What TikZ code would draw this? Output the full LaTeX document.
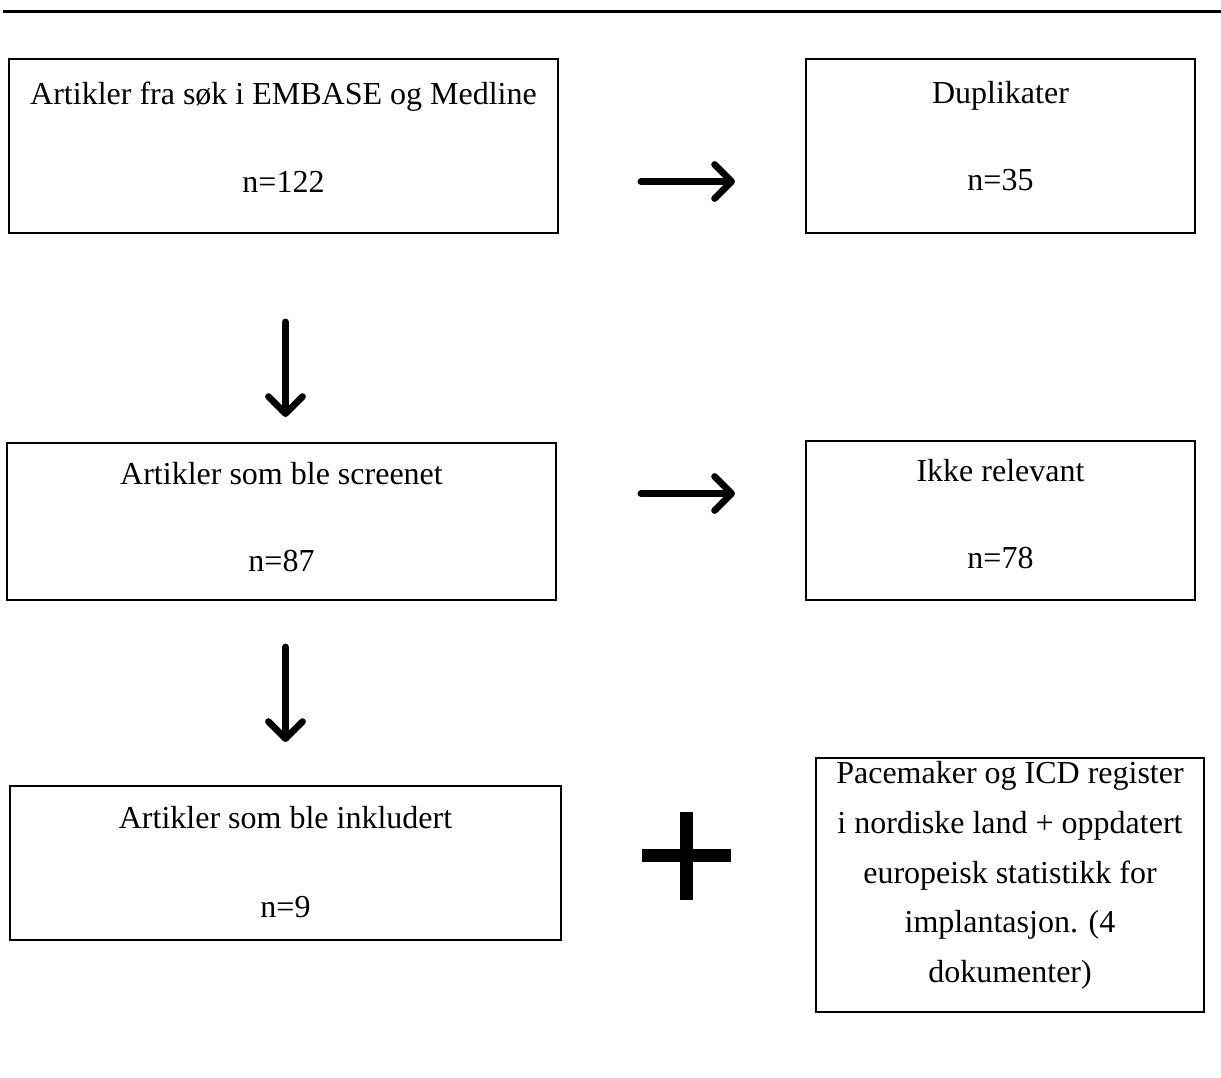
\documentclass[tikz,border=0pt]{standalone}
\usepackage{fontspec}
\setmainfont{Liberation Serif}
\usetikzlibrary{arrows.meta}
\begin{document}
\begin{tikzpicture}[x=1pt,y=-1pt,
  box/.style={draw=black,line width=1.2pt,rectangle,inner sep=0pt},
  txt/.style={anchor=base,inner sep=0pt,font=\fontsize{32}{38}\selectfont},
  flow/.style={line width=6.8pt,line cap=round,-{Straight Barb[round,length=17pt,width=34pt]}}]
\useasboundingbox (0,0) rectangle (1221,1077);
\draw[line width=3.8pt] (3,11.5) -- (1221,11.5);
% boxes
\node[box,minimum width=549pt,minimum height=174pt] (b1) at (283.5,146) {};
\node[box,minimum width=389pt,minimum height=174pt] (b2) at (1000.5,146) {};
\node[box,minimum width=549pt,minimum height=157pt] (b3) at (281.5,521.5) {};
\node[box,minimum width=389pt,minimum height=159pt] (b4) at (1000.5,520.5) {};
\node[box,minimum width=551pt,minimum height=154pt] (b5) at (285.5,863) {};
\node[box,minimum width=388pt,minimum height=254pt] (b6) at (1010,885) {};
% texts
\node[txt] (t1a) at (283.5,104) {Artikler fra søk i EMBASE og Medline};
\node[txt] (t1b) at (283.5,192) {n=122};
\node[txt] (t2a) at (1000.5,103) {Duplikater};
\node[txt] (t2b) at (1000.5,190) {n=35};
\node[txt] (t3a) at (281.5,484) {Artikler som ble screenet};
\node[txt] (t3b) at (281.5,571) {n=87};
\node[txt] (t4a) at (1000.5,481) {Ikke relevant};
\node[txt] (t4b) at (1000.5,568) {n=78};
\node[txt] (t5a) at (285.5,828) {Artikler som ble inkludert};
\node[txt] (t5b) at (285.5,917) {n=9};
\node[txt] (t6a) at (1010,783) {Pacemaker og ICD register};
\node[txt] (t6b) at (1010,833) {i nordiske land + oppdatert};
\node[txt] (t6c) at (1010,883) {europeisk statistikk for};
\node[txt] (t6d) at (1010,932) {implantasjon. (4};
\node[txt] (t6e) at (1010,982) {dokumenter)};
% arrows
\coordinate (r1s) at (641,181.5);
\coordinate (r1e) at (735,181.5);
\coordinate (r2s) at (641,493.5);
\coordinate (r2e) at (735,493.5);
\coordinate (d1s) at (285.5,322);
\coordinate (d1e) at (285.5,417);
\coordinate (d2s) at (285.5,647);
\coordinate (d2e) at (285.5,742);
\draw[flow] (r1s) -- (r1e);
\draw[flow] (r2s) -- (r2e);
\draw[flow] (d1s) -- (d1e);
\draw[flow] (d2s) -- (d2e);
% plus
\fill (680,812) rectangle (693,900);
\fill (642,849) rectangle (731,862);
\end{tikzpicture}
\end{document}
